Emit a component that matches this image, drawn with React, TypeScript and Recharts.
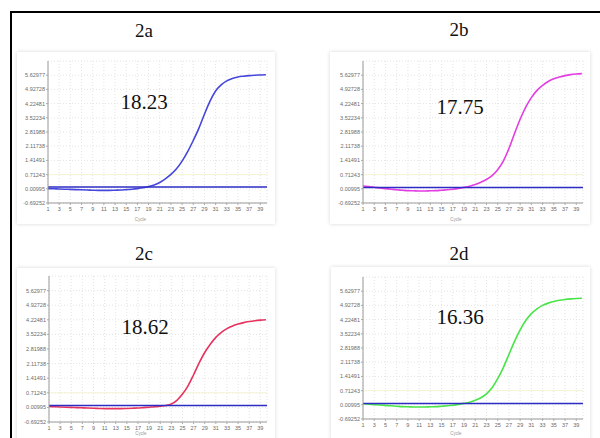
import React from 'react';
import { LineChart, Line, XAxis, YAxis, CartesianGrid, ReferenceLine, Label } from 'recharts';

const cycles = [1, 2, 3, 4, 5, 6, 7, 8, 9, 10, 11, 12, 13, 14, 15, 16, 17, 18, 19, 20, 21, 22, 23, 24, 25, 26, 27, 28, 29, 30, 31, 32, 33, 34, 35, 36, 37, 38, 39, 40];
const xTicks = [1, 3, 5, 7, 9, 11, 13, 15, 17, 19, 21, 23, 25, 27, 29, 31, 33, 35, 37, 39];
const yTicks = [-0.69252, 0.00995, 0.71243, 1.41491, 2.11738, 2.81988, 3.52234, 4.22481, 4.92728, 5.62977];
const yTickLabels = ['-0.69252', '0.00995', '0.71243', '1.41491', '2.11738', '2.81988', '3.52234', '4.22481', '4.92728', '5.62977'];
const yDomain = [-0.69252, 6.33224];
const xDomain = [1, 40.2];

const panelTitles = ['2a', '2b', '2c', '2d'];
const ctLabels = ['18.23', '17.75', '18.62', '16.36'];

const amp2a = [0.02, 0.01, 0.0, -0.01, -0.02, -0.03, -0.04, -0.05, -0.06, -0.07, -0.07, -0.07, -0.06, -0.05, -0.03, -0.01, 0.02, 0.06, 0.12, 0.2, 0.32, 0.5, 0.72, 1.0, 1.38, 1.85, 2.4, 3.0, 3.7, 4.35, 4.85, 5.15, 5.35, 5.47, 5.54, 5.58, 5.61, 5.63, 5.64, 5.65];
const amp2b = [0.15, 0.12, 0.09, 0.05, 0.02, -0.01, -0.04, -0.06, -0.08, -0.09, -0.1, -0.1, -0.09, -0.08, -0.06, -0.04, -0.01, 0.03, 0.08, 0.14, 0.22, 0.33, 0.47, 0.66, 0.95, 1.38, 2.0, 2.75, 3.45, 4.05, 4.52, 4.88, 5.13, 5.32, 5.45, 5.54, 5.61, 5.66, 5.69, 5.71];
const amp2c = [0.05, 0.04, 0.03, 0.02, 0.01, 0.0, -0.01, -0.02, -0.03, -0.04, -0.05, -0.05, -0.05, -0.05, -0.04, -0.03, -0.02, 0.0, 0.02, 0.04, 0.07, 0.1, 0.17, 0.35, 0.65, 1.05, 1.58, 2.15, 2.65, 3.05, 3.38, 3.62, 3.8, 3.93, 4.02, 4.09, 4.14, 4.18, 4.21, 4.23];
const amp2d = [0.06, 0.04, 0.02, 0.0, -0.02, -0.04, -0.06, -0.08, -0.09, -0.1, -0.1, -0.1, -0.09, -0.08, -0.06, -0.04, -0.01, 0.03, 0.08, 0.14, 0.23, 0.36, 0.55, 0.85, 1.3, 1.85, 2.5, 3.15, 3.72, 4.18, 4.52, 4.76, 4.93, 5.04, 5.12, 5.18, 5.22, 5.25, 5.27, 5.28];
const ampSeries = [amp2a, amp2b, amp2c, amp2d];
const thresholds = [0.1, 0.08, 0.1, 0.07];
const guideLevel = 0.71243;

const curveColors = ['#4646dc', '#e23ee2', '#e6335e', '#48e448'];
const thresholdColor = '#2c2cc4';

const panels = [
  { card: { left: 17, top: 52, width: 258, height: 172 }, margin: { top: 9, right: 8, left: 0, bottom: 0 }, yw: 31, lo: 3, title: { x: 144, y: 30 }, ct: { x: 144, y: 102 } },
  { card: { left: 330, top: 52, width: 260, height: 172 }, margin: { top: 9, right: 7, left: 0, bottom: 0 }, yw: 33, lo: 3, title: { x: 459, y: 29 }, ct: { x: 460, y: 107 } },
  { card: { left: 17, top: 268, width: 258, height: 175 }, margin: { top: 8, right: 8, left: 0, bottom: 0 }, yw: 32, lo: 8, title: { x: 144, y: 253 }, ct: { x: 145, y: 327 } },
  { card: { left: 331, top: 267, width: 259, height: 173 }, margin: { top: 10, right: 7, left: 0, bottom: 0 }, yw: 32, lo: 5, title: { x: 459, y: 253 }, ct: { x: 460, y: 317 } },
];

const tickStyle = { fontSize: 5.5, fill: '#6a6a6a', fontFamily: 'Liberation Sans, Arial, sans-serif' };

function Panel({ idx }: { idx: number }) {
  const p = panels[idx];
  const data = cycles.map((c, i) => ({ cycle: c, amp: ampSeries[idx][i] }));
  return (
    <div style={{ position: 'absolute', left: p.card.left, top: p.card.top, width: p.card.width, height: p.card.height, background: '#fff', boxShadow: '0 0 4px rgba(0,0,0,0.16)' }}>
      <LineChart width={p.card.width} height={p.card.height} data={data} margin={p.margin}>
        <CartesianGrid stroke="#e4e4e4" strokeDasharray="1 2" />
        <XAxis dataKey="cycle" type="number" domain={xDomain} ticks={xTicks} interval={0} allowDataOverflow
          axisLine={{ stroke: '#9a9a9a' }} tickLine={{ stroke: '#aaa' }} tickSize={2} tickMargin={2} tick={tickStyle} height={21}>
          <Label value="Cycle" position="insideBottom" offset={p.lo} dx={-17} style={{ fontSize: 4.5, fill: '#999', fontFamily: 'Liberation Sans, Arial, sans-serif' }} />
        </XAxis>
        <XAxis xAxisId="top" orientation="top" dataKey="cycle" type="number" domain={xDomain} height={0} tick={false} tickLine={false} axisLine={{ stroke: '#9a9a9a' }} allowDataOverflow />
        <YAxis type="number" domain={yDomain} ticks={yTicks} interval={0} allowDataOverflow width={p.yw}
          tickFormatter={(v: number) => yTickLabels[yTicks.indexOf(v)] ?? String(v)}
          axisLine={{ stroke: '#9a9a9a' }} tickLine={{ stroke: '#aaa' }} tickSize={2} tickMargin={1} tick={tickStyle} />
        <YAxis yAxisId="right" orientation="right" type="number" domain={yDomain} width={0} tick={false} tickLine={false} axisLine={{ stroke: '#9a9a9a' }} allowDataOverflow />
        <ReferenceLine y={guideLevel} stroke="#f6f5d6" strokeWidth={1} />
        <Line type="monotone" dataKey="amp" stroke={curveColors[idx]} strokeWidth={1.6} dot={false} isAnimationActive={false} />
        <ReferenceLine y={thresholds[idx]} stroke={thresholdColor} strokeWidth={1.5} />
      </LineChart>
    </div>
  );
}

const textBase: React.CSSProperties = { position: 'absolute', transform: 'translate(-50%, -50%)', lineHeight: 1, fontFamily: '"Liberation Serif", "Times New Roman", serif', color: '#111', whiteSpace: 'nowrap' };

export default function App() {
  return (
    <div style={{ position: 'absolute', left: 0, top: 0, width: 600, height: 438, background: '#fff', overflow: 'hidden' }}>
      <div style={{ position: 'absolute', left: 10, top: 11, width: 600, height: 440, borderLeft: '2px solid #000', borderTop: '2px solid #000' }} />
      {panels.map((p, i) => (
        <Panel key={'p' + i} idx={i} />
      ))}
      {panels.map((p, i) => (
        <div key={'t' + i} style={{ ...textBase, left: p.title.x, top: p.title.y, fontSize: 19 }}>{panelTitles[i]}</div>
      ))}
      {panels.map((p, i) => (
        <div key={'c' + i} style={{ ...textBase, left: p.ct.x, top: p.ct.y, fontSize: 21 }}>{ctLabels[i]}</div>
      ))}
    </div>
  );
}
